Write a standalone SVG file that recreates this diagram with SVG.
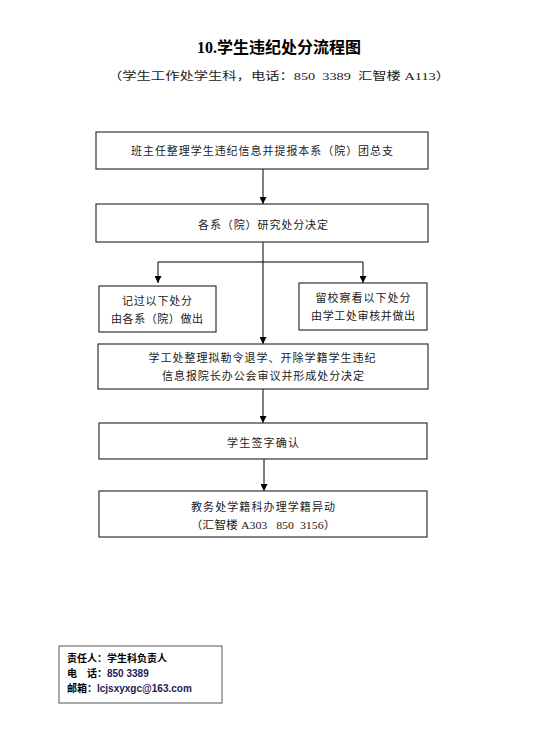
<svg xmlns="http://www.w3.org/2000/svg" width="539" height="735" viewBox="0 0 539 735">
<style>
.box{fill:#fff;stroke:#333;stroke-width:1.2}
.t{font-family:"Liberation Serif","Noto Sans CJK SC",serif;font-size:11px;fill:#222;text-anchor:middle}
.ln{stroke:#000;stroke-width:1;fill:none}
.ft{font-family:"Liberation Sans","Noto Sans CJK SC",sans-serif;font-size:10px;font-weight:bold;fill:#000}
.fb{fill:#1a1a5a}
.pre{white-space:pre}
</style>
<defs>
<marker id="ah" viewBox="0 0 10 10" refX="10" refY="5" markerWidth="7" markerHeight="7" orient="auto" markerUnits="userSpaceOnUse">
<path d="M0,0 L10,5 L0,10 z" fill="#000"/>
</marker>
</defs>
<rect width="539" height="735" fill="#fff"/>
<text x="279" y="53" font-family="Liberation Serif,Noto Sans CJK SC,serif" font-size="16" font-weight="bold" text-anchor="middle" fill="#000" textLength="164">10.学生违纪处分流程图</text>
<text x="279" y="80" class="t pre" font-size="12" textLength="342" lengthAdjust="spacingAndGlyphs">（学生工作处学生科，电话：850  3389  汇智楼 A113）</text>
<g id="connectors">
<line class="ln" x1="263" y1="169" x2="263" y2="204" marker-end="url(#ah)"/>
<line class="ln" x1="263" y1="242" x2="263" y2="344" marker-end="url(#ah)"/>
<line class="ln" x1="158" y1="262" x2="363" y2="262"/>
<line class="ln" x1="158" y1="262" x2="158" y2="283" marker-end="url(#ah)"/>
<line class="ln" x1="363" y1="262" x2="363" y2="283" marker-end="url(#ah)"/>
<line class="ln" x1="263" y1="389" x2="263" y2="423" marker-end="url(#ah)"/>
<line class="ln" x1="264" y1="459" x2="264" y2="491" marker-end="url(#ah)"/>
</g>
<g id="n1"><rect class="box" x="96" y="132" width="332" height="37"/>
<text class="t" x="262" y="155" textLength="262">班主任整理学生违纪信息并提报本系（院）团总支</text></g>
<g id="n2"><rect class="box" x="96" y="204" width="332" height="38"/>
<text class="t" x="263" y="229" textLength="130">各系（院）研究处分决定</text></g>
<g id="n3"><rect class="box" x="99" y="286" width="117" height="46"/>
<text class="t" x="157" y="305" textLength="70">记过以下处分</text>
<text class="t" x="157" y="323" textLength="92">由各系（院）做出</text></g>
<g id="n4"><rect class="box" x="299" y="283" width="128" height="47"/>
<text class="t" x="363" y="302" textLength="95">留校察看以下处分</text>
<text class="t" x="363" y="320" textLength="104">由学工处审核并做出</text></g>
<g id="n5"><rect class="box" x="98" y="344" width="330" height="45"/>
<text class="t" x="262" y="362" textLength="227">学工处整理拟勒令退学、开除学籍学生违纪</text>
<text class="t" x="263" y="380" textLength="202">信息报院长办公会审议并形成处分决定</text></g>
<g id="n6"><rect class="box" x="99" y="423" width="328" height="36"/>
<text class="t" x="263" y="447" textLength="72">学生签字确认</text></g>
<g id="n7"><rect class="box" x="99" y="491" width="328" height="46"/>
<text class="t" x="263" y="511" textLength="144">教务处学籍科办理学籍异动</text>
<text class="t pre" x="263" y="529" textLength="145" lengthAdjust="spacingAndGlyphs">（汇智楼 A303   850  3156）</text></g>
<g id="footer"><rect x="59" y="646" width="163" height="57" fill="#fff" stroke="#555" stroke-width="1"/>
<text class="ft" x="67" y="662">责任人：学生科负责人</text>
<text class="ft" x="67" y="677">电　话：<tspan class="fb">850 3389</tspan></text>
<text class="ft" x="67" y="692">邮箱：<tspan class="fb">lcjsxyxgc@163.com</tspan></text></g>
</svg>
